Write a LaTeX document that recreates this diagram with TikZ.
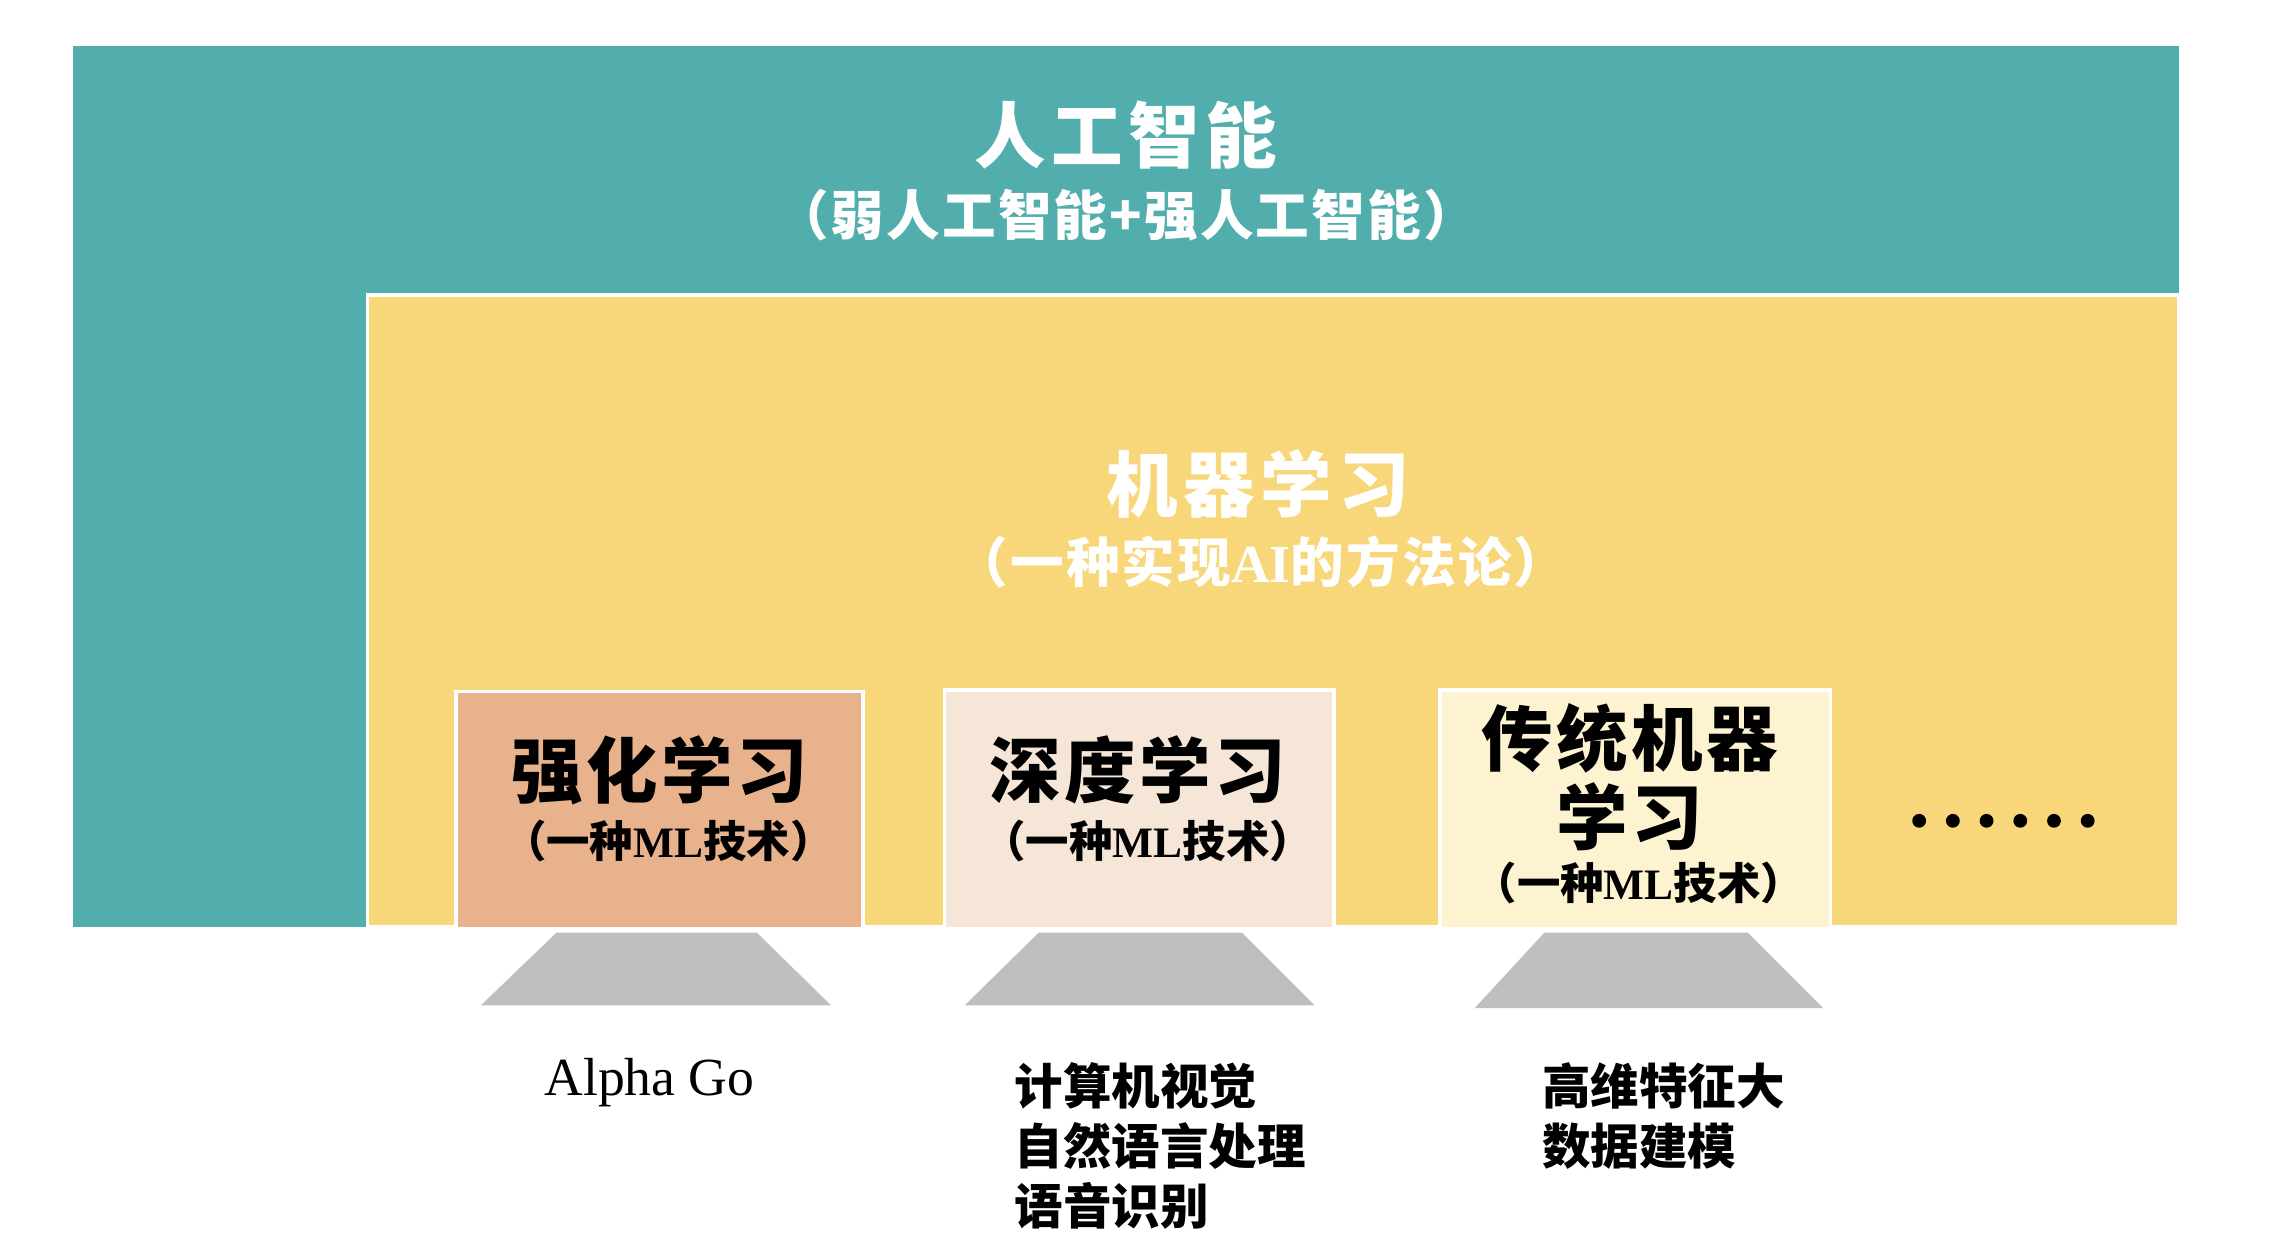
\documentclass[tikz,border=0pt]{standalone}
\usepackage{fontspec}
\setmainfont{Liberation Serif}
\newfontfamily\cjk{Noto Sans CJK SC}
\definecolor{teal1}{HTML}{52AEAC}
\definecolor{yell1}{HTML}{F8D77B}
\definecolor{boxa}{HTML}{E8B38C}
\definecolor{boxb}{HTML}{F5E6D8}
\definecolor{boxc}{HTML}{FDF3D1}
\definecolor{gray1}{HTML}{BFBFBF}
\tikzset{
  region/.style={draw=white,line width=0.25mm,inner sep=0pt,outer sep=0pt,anchor=north west},
  bigtitle/.style={text=white,font=\cjk\bfseries\fontsize{14pt}{16pt}\selectfont\addfontfeature{LetterSpace=8}},
  subtitle/.style={text=white,font=\cjk\bfseries\fontsize{10.5pt}{12pt}\selectfont\addfontfeature{LetterSpace=4}},
  boxtitle/.style={text=black,font=\cjk\bfseries\fontsize{14pt}{15.6pt}\selectfont\addfontfeature{LetterSpace=5},align=center},
  boxsub/.style={text=black,font=\cjk\bfseries\fontsize{8.5pt}{10pt}\selectfont},
  label/.style={text=black,font=\cjk\bfseries\fontsize{9.5pt}{11.7pt}\selectfont,align=left},
  stand/.style={fill=gray1},
  dot/.style={circle,fill=black,inner sep=0pt,minimum size=0.95mm}
}
\begin{document}
\begin{tikzpicture}[x=0.1mm,y=-0.1mm]
\useasboundingbox[fill=white] (0,0) rectangle (1568,860.5);
% outer AI region
\fill[teal1] (50,32) rectangle (1500,638);
\node[region,fill=yell1,minimum width=1247*0.1mm,minimum height=435*0.1mm] (ml) at (253,203) {};
\node[bigtitle] (ai) at (775,93) {人工智能};
\node[subtitle] (aisub) at (775,148) {（弱人工智能+强人工智能）};
\node[bigtitle] (mlt) at (866,333) {机器学习};
\node[subtitle] (mlsub) at (868,387) {（一种实现{\rmfamily\bfseries AI}的方法论）};
% boxes
\node[region,fill=boxa,minimum width=280*0.1mm,minimum height=163*0.1mm] (rl) at (314,476) {};
\node[region,fill=boxb,minimum width=268*0.1mm,minimum height=164*0.1mm] (dl) at (650,475) {};
\node[region,fill=boxc,minimum width=269*0.1mm,minimum height=164*0.1mm] (tml) at (991,475) {};
\node[boxtitle] (rlt) at (454,530) {强化学习};
\node[boxsub] (rls) at (460,579) {（一种{\rmfamily\bfseries ML}技术）};
\node[boxtitle] (dlt) at (783,530) {深度学习};
\node[boxsub] (dls) at (790,579) {（一种{\rmfamily\bfseries ML}技术）};
\node[boxtitle] (tmlt) at (1122,535) {传统机器\\学习};
\node[boxsub] (tmls) at (1128,608) {（一种{\rmfamily\bfseries ML}技术）};
% dots
\foreach \i in {0,...,5} { \node[dot] (d\i) at (1321+23.2*\i,565) {}; }
% stands
\fill[stand] (383,642) -- (521,642) -- (572,692) -- (331,692) -- cycle;
\fill[stand] (715,642) -- (855,642) -- (905,692) -- (664,692) -- cycle;
\fill[stand] (1063,642) -- (1203,642) -- (1255,694) -- (1015,694) -- cycle;
% labels
\node[text=black,font=\rmfamily\fontsize{10.5pt}{12pt}\selectfont] (ag) at (447,745) {Alpha Go};
\node[label,anchor=north west] (dll) at (686,719) {计算机视觉\\自然语言处理\\语音识别};
\node[label,anchor=north west] (tmll) at (1049,719) {高维特征大\\数据建模};
\end{tikzpicture}
\end{document}
